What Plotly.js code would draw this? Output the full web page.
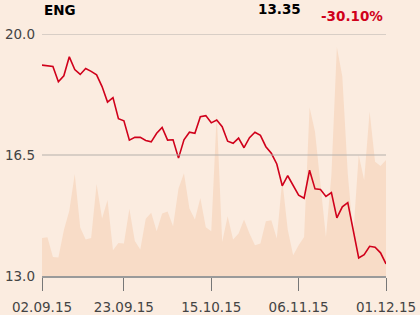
<!DOCTYPE html>
<html>
<head>
<meta charset="utf-8">
<script src="https://cdn.plot.ly/plotly-3.0.1.min.js"></script>
<style>
html,body{margin:0;padding:0;background:#fbece0;}
#chart{width:420px;height:315px;}
</style>
</head>
<body>
<div id="chart"></div>
<script>
var dates = [
 "2015-09-02","2015-09-03","2015-09-04","2015-09-07","2015-09-08","2015-09-09","2015-09-10","2015-09-11",
 "2015-09-14","2015-09-15","2015-09-16","2015-09-17","2015-09-18","2015-09-21","2015-09-22","2015-09-23",
 "2015-09-24","2015-09-25","2015-09-28","2015-09-29","2015-09-30","2015-10-01","2015-10-02","2015-10-05",
 "2015-10-06","2015-10-07","2015-10-08","2015-10-09","2015-10-12","2015-10-13","2015-10-14","2015-10-15",
 "2015-10-16","2015-10-19","2015-10-20","2015-10-21","2015-10-22","2015-10-23","2015-10-26","2015-10-27",
 "2015-10-28","2015-10-29","2015-10-30","2015-11-02","2015-11-03","2015-11-04","2015-11-05","2015-11-06",
 "2015-11-09","2015-11-10","2015-11-11","2015-11-12","2015-11-13","2015-11-16","2015-11-17","2015-11-18",
 "2015-11-19","2015-11-20","2015-11-23","2015-11-24","2015-11-25","2015-11-27","2015-11-30","2015-12-01"
];
var prices = [19.10,19.08,19.06,18.62,18.79,19.34,18.97,18.83,19.00,18.92,18.82,18.48,18.03,18.16,17.55,17.49,
 16.93,17.01,17.01,16.92,16.88,17.13,17.30,16.93,16.94,16.41,16.94,17.16,17.13,17.61,17.64,17.43,
 17.51,17.32,16.90,16.84,16.99,16.71,17.00,17.16,17.07,16.74,16.55,16.24,15.61,15.90,15.63,15.34,
 15.25,16.06,15.52,15.50,15.30,15.41,14.68,15.00,15.12,14.30,13.52,13.62,13.86,13.83,13.67,13.35];
var volumes = [380,387,190,184,457,650,1017,484,364,380,917,574,757,257,330,324,
 670,350,264,570,630,447,624,644,497,874,1024,674,564,777,487,447,
 1617,340,597,364,424,564,424,307,324,547,557,374,957,464,207,307,
 390,1684,1440,927,390,1007,2284,1990,1020,407,1207,957,1640,1140,1097,1157];
var xTickDates = ["2015-09-02","2015-09-23","2015-10-15","2015-11-06","2015-12-01"];
var xTickLabels = ["02.09.15","23.09.15","15.10.15","06.11.15","01.12.15"];
var yTickVals = [13.0, 16.5, 20.0];
var yTickLabels = ["13.0","16.5","20.0"];
var tickerName = "ENG";
var lastPrice = "13.35";
var changePct = "-30.10%";

var FONT = "DejaVu Sans";
var volumeTrace = {
  x: dates, y: volumes, type: "scatter", mode: "lines",
  fill: "tozeroy", fillcolor: "#f8dcc7", line: {width: 0, color: "#f8dcc7"},
  yaxis: "y", hoverinfo: "skip"
};
var priceTrace = {
  x: dates, y: prices, type: "scatter", mode: "lines",
  line: {color: "#d0011b", width: 1.6}, yaxis: "y2"
};

var gridShapes = yTickVals.slice(1).map(function(v){
  return {type: "line", xref: "paper", x0: 0, x1: 1, yref: "y2", y0: v, y1: v,
          line: {color: "#b5b0ab", width: 1}, layer: "above"};
});

var layout = {
  width: 420, height: 315,
  margin: {l: 42, r: 34, t: 34, b: 39, pad: 0},
  paper_bgcolor: "#fbece0", plot_bgcolor: "#fbece0",
  showlegend: false,
  font: {family: FONT, size: 13.5, color: "#444"},
  xaxis: {
    type: "category", range: [0, dates.length - 1],
    tickvals: xTickDates, ticktext: xTickLabels,
    showgrid: false, zeroline: false,
    showline: true, linecolor: "#9a9a9a", linewidth: 1.5,
    ticks: "outside", ticklen: 13, tickcolor: "#777", tickwidth: 1,
    ticklabelstandoff: 5,
    tickfont: {family: FONT, size: 13.5, color: "#444"}
  },
  yaxis: {
    range: [0, 2414], visible: false, showgrid: false, zeroline: false
  },
  yaxis2: {
    overlaying: "y", side: "left",
    range: [13, 20], tickvals: yTickVals, ticktext: yTickLabels,
    showgrid: false, zeroline: false, showline: false, ticks: "",
    ticklabelstandoff: 6,
    tickfont: {family: FONT, size: 13.5, color: "#444"}
  },
  shapes: gridShapes,
  annotations: [
    {xref: "paper", yref: "paper", x: 0, y: (276 - 10) / 242, xanchor: "left", yanchor: "middle",
     text: "<b>" + tickerName + "</b>", showarrow: false, font: {family: FONT, size: 13.5, color: "#000"}},
    {xref: "paper", yref: "paper", x: (303 - 42) / 344, y: (276 - 9) / 242, xanchor: "right", yanchor: "middle",
     text: "<b>" + lastPrice + "</b>", showarrow: false, font: {family: FONT, size: 13.5, color: "#000"}},
    {xref: "paper", yref: "paper", x: (319 - 42) / 344, y: (276 - 16.5) / 242, xanchor: "left", yanchor: "middle",
     text: "<b>" + changePct + "</b>", showarrow: false, font: {family: FONT, size: 13.5, color: "#d0011b"}}
  ]
};

Plotly.newPlot("chart", [volumeTrace, priceTrace], layout, {displayModeBar: false, staticPlot: true});
</script>
</body>
</html>
